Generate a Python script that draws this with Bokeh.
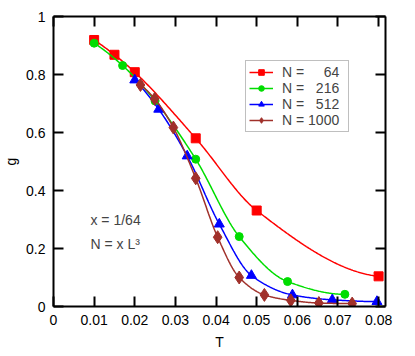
import numpy as np
from bokeh.plotting import figure
from bokeh.models import (Range1d, FixedTicker, LinearAxis, CustomJSTickFormatter,
                          Legend, LegendItem, Label)
from bokeh.embed import file_html
from bokeh.resources import INLINE

# ---- data ----
T64 = [0.010, 0.015, 0.020, 0.035, 0.050, 0.080]
g64 = [0.919, 0.868, 0.808, 0.580, 0.331, 0.104]
T216 = [0.010, 0.017, 0.025, 0.035, 0.0457, 0.0576, 0.0717]
g216 = [0.908, 0.831, 0.709, 0.508, 0.241, 0.086, 0.042]
T512 = [0.020, 0.0259, 0.0329, 0.0408, 0.0487, 0.0588, 0.0686, 0.0796]
g512 = [0.781, 0.680, 0.519, 0.284, 0.107, 0.040, 0.023, 0.017]
T1000 = [0.0214, 0.0249, 0.0295, 0.035, 0.0404, 0.0457, 0.0519, 0.0584, 0.0653, 0.0735]
g1000 = [0.764, 0.716, 0.617, 0.442, 0.239, 0.100, 0.040, 0.021, 0.012, 0.010]

sizes = ["64", "216", "512", "1000"]
x_ticks = [0, 0.01, 0.02, 0.03, 0.04, 0.05, 0.06, 0.07, 0.08]
x_tick_labels = ["0", "0.01", "0.02", "0.03", "0.04", "0.05", "0.06", "0.07", "0.08"]
y_ticks = [0, 0.2, 0.4, 0.6, 0.8, 1.0]
y_tick_labels = ["0", "0.2", "0.4", "0.6", "0.8", "1"]

FONT = "Liberation Sans"


def pchip(x, y, xs):
    x = np.asarray(x, float)
    y = np.asarray(y, float)
    h = np.diff(x)
    d = np.diff(y) / h
    n = len(x)
    m = np.zeros(n)
    for k in range(1, n - 1):
        if d[k - 1] * d[k] > 0:
            w1 = 2 * h[k] + h[k - 1]
            w2 = h[k] + 2 * h[k - 1]
            m[k] = (w1 + w2) / (w1 / d[k - 1] + w2 / d[k])

    def endslope(h0, h1, d0, d1):
        s = ((2 * h0 + h1) * d0 - h0 * d1) / (h0 + h1)
        if np.sign(s) != np.sign(d0):
            s = 0.0
        elif np.sign(d0) != np.sign(d1) and abs(s) > abs(3 * d0):
            s = 3 * d0
        return s

    m[0] = endslope(h[0], h[1], d[0], d[1])
    m[-1] = endslope(h[-1], h[-2], d[-1], d[-2])
    idx = np.clip(np.searchsorted(x, xs) - 1, 0, n - 2)
    t = (xs - x[idx]) / h[idx]
    h00 = 2 * t**3 - 3 * t**2 + 1
    h10 = t**3 - 2 * t**2 + t
    h01 = -2 * t**3 + 3 * t**2
    h11 = t**3 - t**2
    return h00 * y[idx] + h10 * h[idx] * m[idx] + h01 * y[idx + 1] + h11 * h[idx] * m[idx + 1]


p = figure(width=403, height=354, output_backend="svg", toolbar_location=None,
           x_range=Range1d(0, 0.0817), y_range=Range1d(0, 1),
           x_axis_location=None, y_axis_location=None,
           min_border_left=53, min_border_right=18, min_border_top=16, min_border_bottom=48)
p.grid.visible = False
p.outline_line_color = None
p.background_fill_color = "white"

series = [(T64, g64, "#ff0000", "square", 9),
          (T216, g216, "#00dd00", "circle", 8),
          (T512, g512, "#0000ff", "triangle", 10),
          (T1000, g1000, "#a0302a", "diamond", 13)]

items = []
for (T, g, col, mk, sz), n in zip(series, sizes):
    xs = np.linspace(T[0], T[-1], 300)
    ys = pchip(T, g, xs)
    lr = p.line(xs, ys, line_color=col, line_width=1.5)
    mr = p.scatter(T, g, marker=mk, size=sz, fill_color=col, line_color=col)
    label = "N = " + "\u2007" * (4 - len(n)) + n
    items.append(LegendItem(label=label, renderers=[lr, mr]))

xfmt = CustomJSTickFormatter(args=dict(labels=x_tick_labels), code="return labels[index]")
yfmt = CustomJSTickFormatter(args=dict(labels=y_tick_labels), code="return labels[index]")

bottom = LinearAxis(ticker=FixedTicker(ticks=x_ticks), formatter=xfmt, axis_label="T",
                    major_label_standoff=8, axis_label_standoff=6,
                    major_label_text_font_size="14px")
left = LinearAxis(ticker=FixedTicker(ticks=y_ticks), formatter=yfmt, axis_label="g",
                  major_label_standoff=8, axis_label_standoff=4,
                  major_label_text_font_size="14px")
# mirrored tick marks on the top and right edges (no labels)
top = LinearAxis(ticker=FixedTicker(ticks=x_ticks), major_label_text_font_size="0px",
                 major_label_standoff=0)
right = LinearAxis(ticker=FixedTicker(ticks=y_ticks),
                   major_label_text_font_size="0px", major_label_standoff=0)
for ax in (top, right):
    ax.major_label_text_color = None
p.add_layout(bottom, "below")
p.add_layout(left, "left")
p.add_layout(top, "above")
p.add_layout(right, "right")

for ax in [bottom, left, top, right]:
    ax.axis_line_width = 2
    ax.axis_line_color = "black"
    ax.major_tick_in = 10
    ax.major_tick_out = 0
    ax.major_tick_line_width = 2
    ax.minor_tick_line_color = None
    ax.major_label_text_font = FONT
    ax.axis_label_text_font = FONT
    ax.axis_label_text_font_size = "14px"
    ax.axis_label_text_font_style = "normal"
    ax.axis_label_text_color = "black"
bottom.major_label_text_color = "black"
left.major_label_text_color = "black"

legend = Legend(items=items, location=(192, 174), orientation="vertical",
                label_text_font=FONT, label_text_font_size="14px",
                label_height=14, label_width=63, glyph_height=14, glyph_width=24,
                spacing=0, padding=3, margin=0, label_standoff=9,
                border_line_color="#808080", border_line_width=1,
                background_fill_color="white", background_fill_alpha=1)
p.add_layout(legend, "center")

p.add_layout(Label(x=0.0091, y=0.298, text="x = 1/64", text_font=FONT,
                   text_font_size="14px", text_baseline="middle"))
p.add_layout(Label(x=0.0091, y=0.215, text="N = x L\u00b3", text_font=FONT,
                   text_font_size="14px", text_baseline="middle"))

open("out.html", "w").write(file_html(p, INLINE))
